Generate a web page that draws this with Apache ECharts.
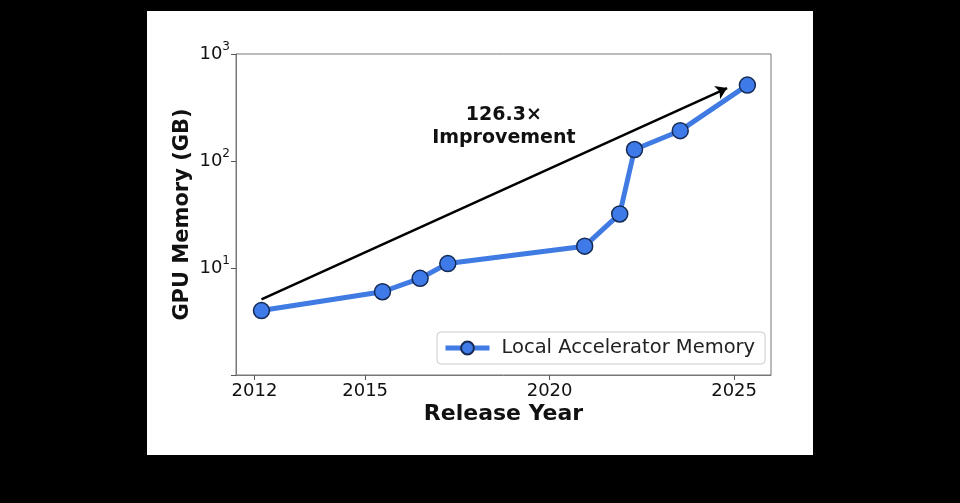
<!DOCTYPE html>
<html>
<head>
<meta charset="utf-8">
<script src="https://cdn.jsdelivr.net/npm/echarts@6/dist/echarts.min.js"></script>
<style>
  html, body { margin: 0; padding: 0; background: #000; }
  #chart { width: 960px; height: 503px; }
</style>
</head>
<body>
<div id="chart"></div>
<script>
// release year / memory (GB)
var years = [2012.19, 2015.47, 2016.49, 2017.24, 2020.95, 2021.9, 2022.3, 2023.54, 2025.36]
var memoryGB = [4, 6, 8, 11, 16, 32, 128, 192, 512]
var xTicks = [2012, 2015, 2020, 2025]
var arrowFrom = [2012.19, 5.1]
var arrowTo = [2024.81, 480]
var noteAt = [2018.76, 208]
var noteText = '126.3×\nImprovement'

var font = 'DejaVu Sans'
var chart = echarts.init(document.getElementById('chart'))

var option = {
  backgroundColor: '#000',
  animation: false,
  textStyle: { fontFamily: font },
  graphic: [{
    type: 'rect',
    z: -10,
    shape: { x: 147, y: 11, width: 666, height: 444 },
    style: { fill: '#fff' }
  }],
  grid: {
    left: 236, top: 54, right: 189, bottom: 128,
    show: true, borderColor: '#777', borderWidth: 1, backgroundColor: 'transparent'
  },
  legend: {
    left: 437, top: 332,
    padding: [6, 10, 6, 6],
    backgroundColor: '#fff',
    borderColor: '#ccc', borderWidth: 1, borderRadius: 4,
    itemWidth: 44, itemHeight: 16,
    lineStyle: { width: 5 },
    textStyle: { fontFamily: font, fontSize: 19.5, color: '#222', padding: [0, 0, 0, 7] },
    data: ['Local Accelerator Memory']
  },
  xAxis: {
    type: 'value',
    min: 2011.5, max: 2026,
    name: 'Release Year',
    nameLocation: 'middle',
    nameGap: 28,
    nameMoveOverlap: false,
    nameTextStyle: { fontFamily: font, fontSize: 22, fontWeight: 'bold', color: '#111' },
    axisLine: { lineStyle: { color: '#777' } },
    axisTick: { show: true, customValues: xTicks, length: 5, lineStyle: { color: '#555' } },
    axisLabel: {
      customValues: xTicks, fontSize: 18, color: '#111', margin: 7,
      formatter: function (v) { return String(v) }
    },
    splitLine: { show: false }
  },
  yAxis: {
    type: 'log',
    logBase: 10,
    min: 1, max: 1000,
    name: 'GPU Memory (GB)',
    nameLocation: 'middle',
    nameGap: 43,
    nameMoveOverlap: false,
    nameTextStyle: { fontFamily: font, fontSize: 21, fontWeight: 'bold', color: '#111' },
    axisLine: { show: true, lineStyle: { color: '#777' } },
    axisTick: { show: true, length: 5, lineStyle: { color: '#555' } },
    axisLabel: {
      fontSize: 17, color: '#111', margin: 6,
      formatter: function (v) {
        if (v <= 1) return ''
        return '{b|10}{s|' + Math.round(Math.log10(v)) + '}'
      },
      rich: {
        b: { fontSize: 18, color: '#111', fontFamily: font },
        s: { fontSize: 12, color: '#111', fontFamily: font, verticalAlign: 'bottom', padding: [0, 0, 14, 0] }
      }
    },
    splitLine: { show: false }
  },
  series: [{
    name: 'Local Accelerator Memory',
    type: 'line',
    data: years.map(function (y, i) { return [y, memoryGB[i]] }),
    lineStyle: { color: '#3f7be3', width: 5 },
    symbol: 'circle',
    symbolSize: 16,
    itemStyle: { color: '#3f7be8', borderColor: '#152a55', borderWidth: 1.5 },
    z: 3,
    markLine: {
      silent: true,
      symbol: ['none', 'arrow'],
      symbolSize: 11,
      label: { show: false },
      lineStyle: { color: '#000', width: 2.5, type: 'solid' },
      data: [[{ coord: arrowFrom }, { coord: arrowTo }]]
    },
    markPoint: {
      silent: true,
      symbol: 'circle',
      symbolSize: 0,
      label: {
        show: true,
        position: 'inside',
        formatter: noteText,
        fontFamily: font,
        fontSize: 19,
        fontWeight: 'bold',
        lineHeight: 23,
        color: '#111',
        align: 'center'
      },
      data: [{ coord: noteAt }]
    }
  }]
}

chart.setOption(option)
</script>
</body>
</html>
